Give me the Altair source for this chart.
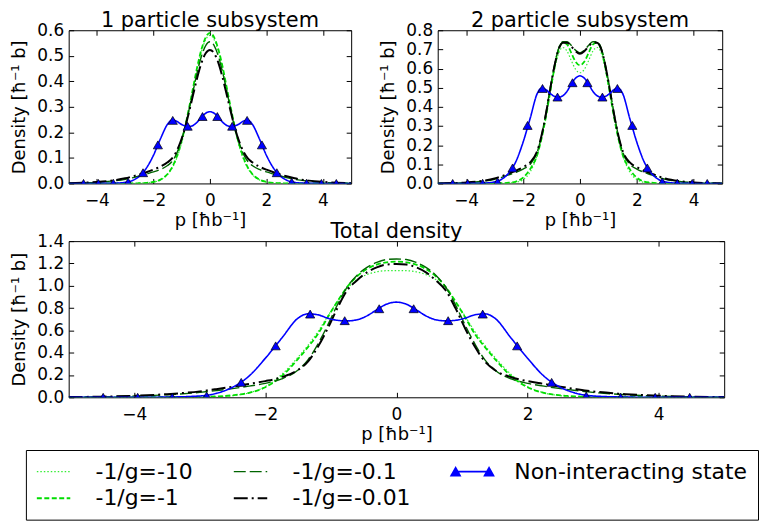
import altair as alt
import pandas as pd

FONT = "DejaVu Sans"
TICK = 5

SERIES = ["-1/g=-10", "-1/g=-1", "-1/g=-0.1", "-1/g=-0.01", "Non-interacting state"]
LEGEND_ORDER = ["-1/g=-10", "-1/g=-0.1", "Non-interacting state", "-1/g=-1", "-1/g=-0.01"]
COLORS = {"-1/g=-10": "#33ee33", "-1/g=-1": "#00dd00", "-1/g=-0.1": "#006400",
          "-1/g=-0.01": "#000000", "Non-interacting state": "#0000ff"}
DASHES = {"-1/g=-10": [1.5, 2], "-1/g=-1": [5, 2.5], "-1/g=-0.1": [12, 4],
          "-1/g=-0.01": [14, 4, 2, 4], "Non-interacting state": [1, 0]}
WIDTHS = {"-1/g=-10": 1.2, "-1/g=-1": 2, "-1/g=-0.1": 2, "-1/g=-0.01": 2,
          "Non-interacting state": 1}

X_TICKS = [-4, -2, 0, 2, 4]
Y_TICKS_ONE = [0, 0.1, 0.2, 0.3, 0.4, 0.5, 0.6]
Y_TICKS_TWO = [0, 0.1, 0.2, 0.3, 0.4, 0.5, 0.6, 0.7, 0.8]
Y_TICKS_TOT = [0, 0.2, 0.4, 0.6, 0.8, 1.0, 1.2, 1.4]

# momentum grid (p >= 0 half; all densities are symmetric in p)
P_HALF = [0, 0.15, 0.3, 0.45, 0.6, 0.75, 0.9, 1.05, 1.2, 1.35, 1.5, 1.75,
          2.0, 2.25, 2.5, 2.75, 3.0, 3.5, 4.0, 4.5, 5.0]

# 1 particle subsystem
one_g10 = [0.580, 0.563, 0.516, 0.446, 0.363, 0.280, 0.203, 0.140, 0.092, 0.058, 0.035, 0.014,
           0.005, 0.002, 0.001, 0, 0, 0, 0, 0, 0]
one_g1 = [0.590, 0.572, 0.525, 0.456, 0.373, 0.290, 0.212, 0.147, 0.097, 0.061, 0.037, 0.015,
          0.006, 0.002, 0.001, 0, 0, 0, 0, 0, 0]
one_g01 = [0.555, 0.540, 0.498, 0.435, 0.360, 0.283, 0.212, 0.155, 0.112, 0.085, 0.070, 0.055,
           0.045, 0.037, 0.029, 0.022, 0.016, 0.009, 0.004, 0.002, 0.0]
one_g001 = [0.523, 0.510, 0.472, 0.414, 0.345, 0.275, 0.210, 0.160, 0.122, 0.097, 0.083, 0.066,
            0.054, 0.044, 0.035, 0.027, 0.020, 0.011, 0.006, 0.003, 0.001]
one_free = [0.281, 0.275, 0.259, 0.240, 0.227, 0.223, 0.226, 0.234, 0.245, 0.248, 0.232, 0.175,
            0.110, 0.060, 0.028, 0.011, 0.004, 0.0005, 0, 0, 0]

# 2 particle subsystem
two_g10 = [0.578, 0.595, 0.640, 0.690, 0.710, 0.680, 0.590, 0.470, 0.345, 0.235, 0.150, 0.060,
           0.020, 0.006, 0.002, 0, 0, 0, 0, 0, 0]
two_g1 = [0.617, 0.635, 0.680, 0.725, 0.735, 0.700, 0.600, 0.475, 0.345, 0.235, 0.150, 0.075,
          0.030, 0.010, 0.004, 0.001, 0, 0, 0, 0, 0]
two_g01 = [0.682, 0.695, 0.720, 0.740, 0.740, 0.705, 0.615, 0.495, 0.365, 0.250, 0.165, 0.100,
           0.075, 0.058, 0.045, 0.032, 0.022, 0.010, 0.004, 0.001, 0]
two_g001 = [0.677, 0.690, 0.715, 0.735, 0.735, 0.700, 0.610, 0.490, 0.360, 0.250, 0.170, 0.110,
            0.085, 0.067, 0.052, 0.038, 0.026, 0.012, 0.005, 0.002, 0]
two_free = [0.562, 0.550, 0.520, 0.482, 0.458, 0.451, 0.455, 0.470, 0.490, 0.497, 0.470, 0.340,
            0.215, 0.115, 0.055, 0.022, 0.008, 0.001, 0, 0, 0]

# Total density
tot_g10 = [1.136, 1.135, 1.125, 1.100, 1.055, 0.975, 0.860, 0.725, 0.585, 0.465, 0.360, 0.205,
           0.095, 0.040, 0.015, 0.005, 0.002, 0, 0, 0, 0]
tot_g1 = [1.216, 1.210, 1.190, 1.150, 1.085, 0.990, 0.860, 0.715, 0.565, 0.450, 0.345, 0.190,
          0.090, 0.040, 0.018, 0.008, 0.003, 0.001, 0, 0, 0]
tot_g01 = [1.240, 1.235, 1.210, 1.165, 1.095, 0.990, 0.830, 0.645, 0.475, 0.335, 0.245, 0.165,
           0.125, 0.100, 0.078, 0.060, 0.044, 0.023, 0.011, 0.004, 0.001]
tot_g001 = [1.195, 1.190, 1.165, 1.120, 1.050, 0.960, 0.800, 0.615, 0.450, 0.320, 0.245, 0.180,
            0.145, 0.120, 0.095, 0.073, 0.053, 0.028, 0.014, 0.006, 0.002]
tot_free = [0.853, 0.835, 0.785, 0.730, 0.695, 0.685, 0.690, 0.710, 0.740, 0.748, 0.710, 0.530,
            0.350, 0.190, 0.090, 0.035, 0.012, 0.002, 0, 0, 0]

# triangle markers of the non-interacting state (p > 0 half)
P_MARK = [0.263, 0.789, 1.316, 1.842, 2.368, 2.895, 3.421, 3.947, 4.474]
one_mark = [0.262, 0.224, 0.247, 0.151, 0.042, 0.005, 0.001, 0, 0]
two_mark = [0.526, 0.451, 0.496, 0.303, 0.081, 0.008, 0.001, 0, 0]
tot_mark = [0.794, 0.687, 0.746, 0.461, 0.134, 0.012, 0.001, 0, 0]


def mirror_grid(xs, vs):
    return ([-x for x in reversed(xs[1:])] + xs, list(reversed(vs[1:])) + vs)


cscale = alt.Scale(domain=LEGEND_ORDER, range=[COLORS[s] for s in LEGEND_ORDER])
dscale = alt.Scale(domain=LEGEND_ORDER, range=[DASHES[s] for s in LEGEND_ORDER])
wscale = alt.Scale(domain=LEGEND_ORDER, range=[WIDTHS[s] for s in LEGEND_ORDER])

LINE_SYM = "M-1,0L2.2,0"
TRI_SYM = "M-1,0L2.2,0M-1.43,0.38L-1,-0.38L-0.57,0.38ZM1.77,0.38L2.2,-0.38L2.63,0.38Z"
IS_FREE = "datum.value === 'Non-interacting state'"

LEG = alt.Legend(orient="none", legendX=-43, legendY=422, direction="horizontal",
                 columns=3, title=None, labelFont=FONT, labelFontSize=22,
                 labelColor="black",
                 symbolType={"expr": f"{IS_FREE} ? '{TRI_SYM}' : '{LINE_SYM}'"},
                 symbolFillColor={"expr": f"{IS_FREE} ? '#0000ff' : 'transparent'"},
                 symbolSize=441,
                 labelOffset=37, columnPadding=37, rowPadding=4, padding=10,
                 strokeColor="black", fillColor="white", cornerRadius=0,
                 labelLimit=500)
LEG2 = alt.Legend(title=None)


def panel(curves, marks, yticks, title, w, h):
    rows = []
    for name, vals in zip(SERIES, curves):
        ps, vs = mirror_grid(P_HALF, vals)
        for p, v in zip(ps, vs):
            rows.append({"series": name, "p": p, "v": v})
    df = pd.DataFrame(rows)
    mk = pd.DataFrame({"p": [-x for x in reversed(P_MARK)] + P_MARK,
                       "v": list(reversed(marks)) + marks})
    xs = alt.Scale(domain=[-5, 5], nice=False, zero=False)
    ys = alt.Scale(domain=[yticks[0], yticks[-1]], nice=False, zero=False)
    common = dict(offset=-TICK, tickSize=TICK, domain=False, grid=False,
                  tickColor="black", tickWidth=1)
    xaxis = alt.Axis(orient="bottom", values=X_TICKS, format="d", title="p [ħb⁻¹]",
                     labelPadding=9, titlePadding=3, **common)
    yaxis = alt.Axis(orient="left", values=yticks, format=".1f", title="Density [ħ⁻¹ b]",
                     labelPadding=5, titlePadding=8, **common)
    xaxis_top = alt.Axis(orient="top", values=X_TICKS, labels=False, title=None, **common)
    yaxis_right = alt.Axis(orient="right", values=yticks, labels=False, title=None, **common)

    lines = alt.Chart(df).mark_line(interpolate="monotone", clip=True).encode(
        x=alt.X("p:Q", scale=xs, axis=xaxis),
        y=alt.Y("v:Q", scale=ys, axis=yaxis),
        color=alt.Color("series:N", scale=cscale, legend=LEG),
        strokeDash=alt.StrokeDash("series:N", scale=dscale, legend=LEG2),
        strokeWidth=alt.StrokeWidth("series:N", scale=wscale, legend=LEG2),
    )
    tri = alt.Chart(mk).mark_point(shape="triangle-up", filled=True, size=85, fill="#0000ff",
                                   stroke="black", strokeWidth=0.7, opacity=1, clip=True).encode(
        x=alt.X("p:Q", scale=xs, axis=None),
        y=alt.Y("v:Q", scale=ys, axis=None),
    )
    frame = alt.Chart(mk).mark_point(opacity=0).encode(
        x=alt.X("p:Q", scale=xs, axis=xaxis_top),
        y=alt.Y("v:Q", scale=ys, axis=yaxis_right),
    )
    return alt.layer(lines, tri, frame).properties(width=w, height=h, title=title)


p1 = panel([one_g10, one_g1, one_g01, one_g001, one_free], one_mark, Y_TICKS_ONE,
           "1 particle subsystem", 284, 154)
p2 = panel([two_g10, two_g1, two_g01, two_g001, two_free], two_mark, Y_TICKS_TWO,
           "2 particle subsystem", 286, 154)
p3 = panel([tot_g10, tot_g1, tot_g01, tot_g001, tot_free], tot_mark, Y_TICKS_TOT,
           "Total density", 659, 157)

chart = alt.vconcat(alt.hconcat(p1, p2, spacing=27), p3, spacing=-10).properties(
    padding={"left": 2, "top": 0, "right": 0, "bottom": 0}
).configure(font=FONT).configure_view(
    stroke="black", strokeWidth=1
).configure_axis(
    labelFont=FONT, labelFontSize=17, labelColor="black",
    titleFont=FONT, titleFontSize=18, titleFontWeight="normal", titleColor="black"
).configure_title(
    font=FONT, fontSize=21, fontWeight="normal", color="black", anchor="middle", offset=-10
)

chart.save("out.html", embed_options={"renderer": "svg", "actions": False})
